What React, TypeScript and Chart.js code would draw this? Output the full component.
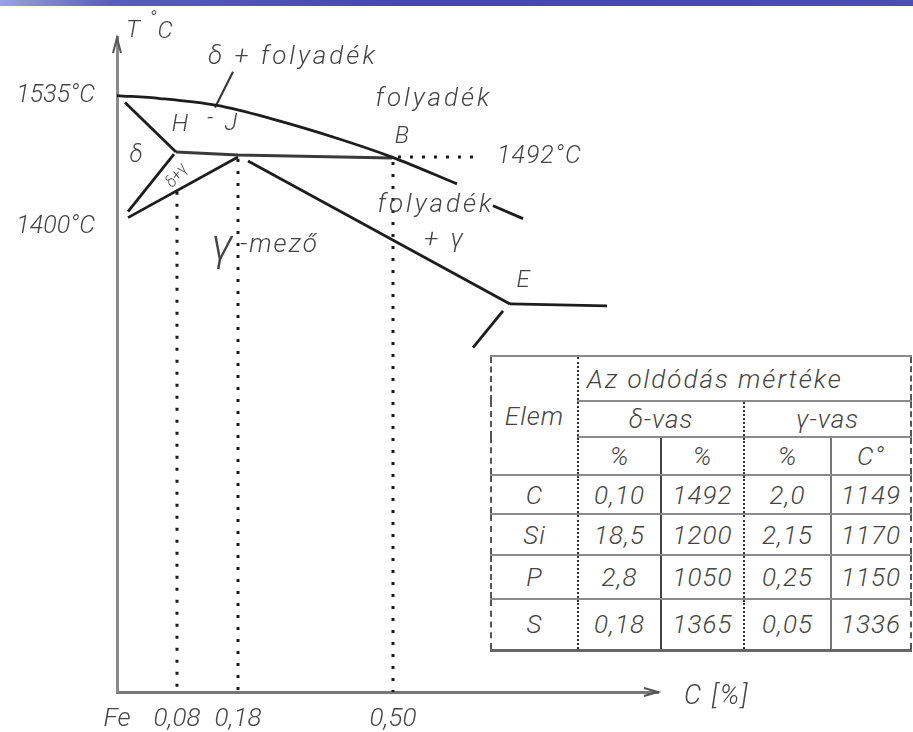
import React, { useEffect, useRef } from "react";
import { Chart, registerables } from "chart.js";
Chart.register(...registerables);

// Schematic diagram units: x = distance right of the Fe axis, y = height above the C axis
const xTickValues = [0, 60, 121, 276];
const xTickLabels = ["Fe", "0,08", "0,18", "0,50"];
const yTickValues = [601, 469];
const yTickLabels = ["1535°C", "1400°C"];

const liquidusX = [0, 43, 100, 153, 223, 275, 340];
const liquidusY = [601, 598, 591, 578, 557, 539, 512];
const liquidus2X = [376, 406];
const liquidus2Y = [490, 477];
const deltaSolidusX = [8, 59];
const deltaSolidusY = [594, 544];
const peritecticX = [59, 121, 275];
const peritecticY = [544, 541, 538];
const deltaSolvusX = [11, 57];
const deltaSolvusY = [484, 542];
const gammaSolvusX = [11, 121];
const gammaSolvusY = [478, 539];
const solidusX = [131, 393];
const solidusY = [535, 391];
const eutecticX = [393, 490];
const eutecticY = [391, 389];
const eTailX = [386, 356];
const eTailY = [384, 347];
const leaderX = [116, 98];
const leaderY = [625, 589];
const guide008X = [60, 60];
const guide008Y = [504, 0];
const guide018X = [121, 121];
const guide018Y = [537, 0];
const guide050X = [276, 276];
const guide050Y = [534, 0];
const guide1492X = [281, 365];
const guide1492Y = [539, 539];

// table
const tableElements = ["C", "Si", "P", "S"];
const deltaPct = ["0,10", "18,5", "2,8", "0,18"];
const deltaTemp = ["1492", "1200", "1050", "1365"];
const gammaPct = ["2,0", "2,15", "0,25", "0,05"];
const gammaTemp = ["1149", "1170", "1150", "1336"];

type Ann = { text: string; x: number; y: number; size: number; align?: CanvasTextAlign; rot?: number; ls?: number };
const annotations: Ann[] = [
  { text: "T", x: 16, y: 666, size: 24 },
  { text: "°", x: 36, y: 677, size: 20 },
  { text: "C", x: 48, y: 665, size: 24 },
  { text: "δ + folyadék", x: 91, y: 639, size: 26, align: "left", ls: 3 },
  { text: "folyadék", x: 317, y: 597, size: 26, ls: 3 },
  { text: "B", x: 285, y: 559, size: 24 },
  { text: "1492°C", x: 380, y: 539, size: 25, align: "left", ls: 1 },
  { text: "folyadék", x: 319, y: 490, size: 26, ls: 3 },
  { text: "+ γ", x: 328, y: 455, size: 26, ls: 3 },
  { text: "E", x: 406, y: 414, size: 24 },
  { text: "γ", x: 105, y: 446, size: 44 },
  { text: "-mező", x: 123, y: 450, size: 26, align: "left", ls: 2 },
  { text: "H", x: 63, y: 571, size: 24 },
  { text: "-", x: 93, y: 577, size: 22 },
  { text: "J", x: 114, y: 572, size: 24 },
  { text: "δ", x: 19, y: 540, size: 24 },
  { text: "δ+γ", x: 60, y: 520, size: 16, rot: -52 },
  { text: "C [%]", x: 567, y: -5, size: 27, align: "left", ls: 2 },
];

const pts = (xs: number[], ys: number[]) => xs.map((x, i) => ({ x, y: ys[i] }));
const solid = (label: string, xs: number[], ys: number[], color = "#1d1d1d", w = 2.8, smooth = false) => ({
  label,
  data: pts(xs, ys),
  showLine: true,
  borderColor: color,
  borderWidth: w,
  pointRadius: 0,
  fill: false,
  clip: false as any,
  cubicInterpolationMode: smooth ? ("monotone" as const) : ("default" as const),
});
const dotted = (label: string, xs: number[], ys: number[]) => ({
  ...solid(label, xs, ys, "#1a1a1a", 3),
  borderDash: [3, 9],
});

const FONT = "Roboto, 'DejaVu Sans', sans-serif";

const labelPlugin = {
  id: "diagramLabels",
  afterDraw(chart: any) {
    const { ctx, scales, chartArea } = chart;
    const sx = scales.x;
    const sy = scales.y;
    ctx.save();
    ctx.fillStyle = "#444";
    ctx.textBaseline = "middle";
    for (const a of annotations) {
      ctx.save();
      ctx.translate(sx.getPixelForValue(a.x), sy.getPixelForValue(a.y));
      if (a.rot) ctx.rotate((a.rot * Math.PI) / 180);
      ctx.font = `italic 300 ${a.size}px ${FONT}`;
      (ctx as any).letterSpacing = `${a.ls ?? 0}px`;
      ctx.textAlign = a.align ?? "center";
      ctx.fillText(a.text, 0, 0);
      ctx.restore();
    }
    // axis arrowheads
    ctx.strokeStyle = "#555";
    ctx.lineWidth = 2;
    const l = chartArea.left;
    const t = chartArea.top;
    ctx.beginPath();
    ctx.moveTo(l - 4, t + 16);
    ctx.lineTo(l, t + 1);
    ctx.lineTo(l + 4, t + 16);
    ctx.stroke();
    const r = chartArea.right;
    const b = chartArea.bottom;
    ctx.beginPath();
    ctx.moveTo(r - 14, b - 4);
    ctx.lineTo(r, b);
    ctx.lineTo(r - 14, b + 4);
    ctx.stroke();
    ctx.restore();
  },
};

function Diagram() {
  const ref = useRef<HTMLCanvasElement | null>(null);
  useEffect(() => {
    if (!ref.current) return;
    const chart = new Chart(ref.current, {
      type: "scatter",
      data: {
        datasets: [
          solid("liquidus", liquidusX, liquidusY, "#1d1d1d", 2.8, true),
          solid("liquidus2", liquidus2X, liquidus2Y),
          solid("deltaSolidus", deltaSolidusX, deltaSolidusY),
          solid("peritectic", peritecticX, peritecticY, "#3a3a3a", 3),
          solid("deltaSolvus", deltaSolvusX, deltaSolvusY),
          solid("gammaSolvus", gammaSolvusX, gammaSolvusY),
          solid("solidus", solidusX, solidusY),
          solid("eutectic", eutecticX, eutecticY),
          solid("eTail", eTailX, eTailY),
          solid("leader", leaderX, leaderY, "#333", 2),
          dotted("g008", guide008X, guide008Y),
          dotted("g018", guide018X, guide018Y),
          dotted("g050", guide050X, guide050Y),
          dotted("g1492", guide1492X, guide1492Y),
        ] as any,
      },
      options: {
        animation: false,
        responsive: false,
        maintainAspectRatio: false,
        layout: { padding: { top: 32, right: 255, bottom: 0, left: 0 } },
        plugins: { legend: { display: false }, tooltip: { enabled: false } },
        scales: {
          x: {
            type: "linear",
            min: 0,
            max: 541,
            grid: { display: false, drawTicks: false },
            border: { display: true, color: "#777", width: 3 },
            afterBuildTicks: (s: any) => {
              s.ticks = xTickValues.map((v) => ({ value: v }));
            },
            afterFit: (s: any) => {
              s.height = 40;
            },
            ticks: {
              autoSkip: false,
              maxRotation: 0,
              padding: 12,
              color: "#444",
              font: { family: FONT, size: 26, style: "italic", weight: 300 as any },
              callback: (v: any) => xTickLabels[xTickValues.indexOf(Number(v))] ?? "",
            },
          },
          y: {
            type: "linear",
            min: 0,
            max: 660,
            grid: { display: false, drawTicks: false },
            border: { display: true, color: "#8a8a8a", width: 3 },
            afterBuildTicks: (s: any) => {
              s.ticks = yTickValues.map((v) => ({ value: v }));
            },
            afterFit: (s: any) => {
              s.width = 117;
            },
            ticks: {
              autoSkip: false,
              padding: 22,
              color: "#444",
              font: { family: FONT, size: 25, style: "italic", weight: 300 as any },
              callback: (v: any) => yTickLabels[yTickValues.indexOf(Number(v))] ?? "",
            },
          },
        },
      },
      plugins: [labelPlugin],
    });
    return () => chart.destroy();
  }, []);
  return <canvas ref={ref} width={913} height={732} style={{ position: "absolute", left: 0, top: 0 }} />;
}

const cellBase: React.CSSProperties = {
  borderTop: "2px solid #8a8a8a",
  borderBottom: "2px solid #8a8a8a",
  padding: 0,
  textAlign: "center",
  verticalAlign: "middle",
};
const colRight = [
  "2px dotted #333",
  "2px solid #444",
  "2px dotted #333",
  "2px solid #777",
  "2px dashed #555",
];

function Table() {
  const rowH = [45, 36, 38, 39, 41, 44, 51];
  const td = (col: number, extra: React.CSSProperties = {}): React.CSSProperties => ({
    ...cellBase,
    borderRight: colRight[col],
    ...extra,
  });
  return (
    <table
      style={{
        position: "absolute",
        left: 490,
        top: 355,
        width: 420,
        height: 294,
        borderCollapse: "collapse",
        tableLayout: "fixed",
        fontFamily: FONT,
        fontStyle: "italic",
        fontWeight: 300,
        fontSize: 26,
        letterSpacing: "1px",
        color: "#444",
        borderLeft: "2px dashed #555",
        borderTop: "2px solid #777",
        borderBottom: "3px solid #666",
        background: "#fff",
      }}
    >
      <colgroup>
        <col style={{ width: 87 }} />
        <col style={{ width: 83 }} />
        <col style={{ width: 83 }} />
        <col style={{ width: 87 }} />
        <col style={{ width: 80 }} />
      </colgroup>
      <tbody>
        <tr style={{ height: rowH[0] }}>
          <td rowSpan={3} style={td(0)}>Elem</td>
          <td colSpan={4} style={td(4, { textAlign: "left", paddingLeft: 8, letterSpacing: "2px" })}>
            Az oldódás mértéke
          </td>
        </tr>
        <tr style={{ height: rowH[1] }}>
          <td colSpan={2} style={td(2)}>δ-vas</td>
          <td colSpan={2} style={td(4)}>γ-vas</td>
        </tr>
        <tr style={{ height: rowH[2] }}>
          <td style={td(1)}>%</td>
          <td style={td(2)}>%</td>
          <td style={td(3)}>%</td>
          <td style={td(4)}>C°</td>
        </tr>
        {tableElements.map((el, i) => (
          <tr key={el} style={{ height: rowH[3 + i] }}>
            <td style={td(0)}>{el}</td>
            <td style={td(1)}>{deltaPct[i]}</td>
            <td style={td(2)}>{deltaTemp[i]}</td>
            <td style={td(3)}>{gammaPct[i]}</td>
            <td style={td(4)}>{gammaTemp[i]}</td>
          </tr>
        ))}
      </tbody>
    </table>
  );
}

export default function App() {
  return (
    <div
      style={{
        position: "fixed",
        left: 0,
        top: 0,
        width: 913,
        height: 732,
        background: "#fff",
        overflow: "hidden",
      }}
    >
      <div
        style={{
          position: "absolute",
          left: 0,
          top: 0,
          width: 913,
          height: 6,
          background: "linear-gradient(to right, #9aa3dc 0%, #5a5cc2 12%, #4545b6 45%, #4a4cba 100%)",
        }}
      />
      <Diagram />
      <Table />
    </div>
  );
}
